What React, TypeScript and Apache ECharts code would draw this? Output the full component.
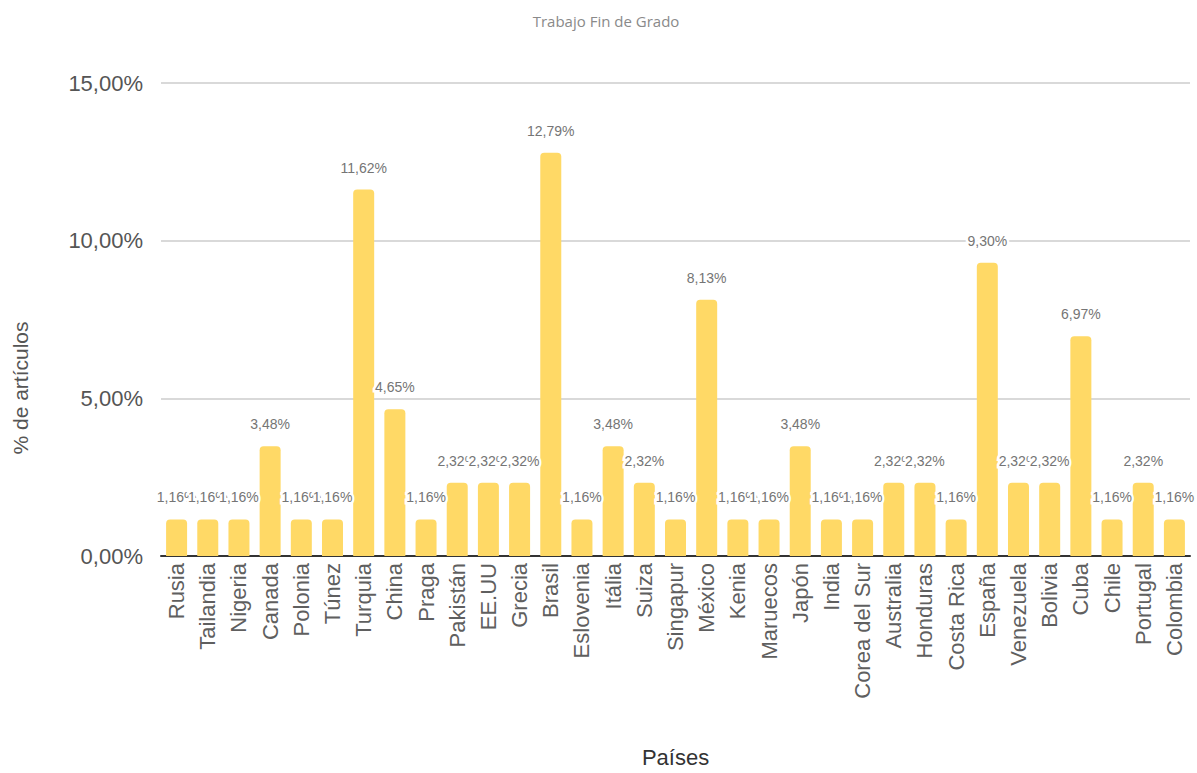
import React, { useEffect, useRef } from "react";
import * as echarts from "echarts";

const countries = [
  "Rusia", "Tailandia", "Nigeria", "Canada", "Polonia", "Túnez", "Turquia", "China", "Praga",
  "Pakistán", "EE.UU", "Grecia", "Brasil", "Eslovenia", "Itália", "Suiza", "Singapur", "México",
  "Kenia", "Maruecos", "Japón", "India", "Corea del Sur", "Australia", "Honduras", "Costa Rica",
  "España", "Venezuela", "Bolivia", "Cuba", "Chile", "Portugal", "Colombia",
];

const percentArticles = [
  1.16, 1.16, 1.16, 3.48, 1.16, 1.16, 11.62, 4.65, 1.16,
  2.32, 2.32, 2.32, 12.79, 1.16, 3.48, 2.32, 1.16, 8.13,
  1.16, 1.16, 3.48, 1.16, 1.16, 2.32, 2.32, 1.16,
  9.3, 2.32, 2.32, 6.97, 1.16, 2.32, 1.16,
];

const yTicks = [0, 5, 10, 15];

const fmt = (v: number) => v.toFixed(2).replace(".", ",") + "%";

export default function App() {
  const ref = useRef<HTMLDivElement>(null);
  useEffect(() => {
    if (!ref.current) return;
    const chart = echarts.init(ref.current, null, { renderer: "svg" });
    chart.setOption({
      animation: false,
      backgroundColor: "#ffffff",
      textStyle: { fontFamily: "Arial, 'Liberation Sans', sans-serif" },
      title: {
        text: "Trabajo Fin de Grado",
        left: 601,
        textAlign: "center",
        top: 8,
        textStyle: { fontSize: 15, fontWeight: "normal", color: "#8a8a8a", fontFamily: "'Open Sans', sans-serif" },
      },
      graphic: [
        {
          type: "text",
          x: 20,
          y: 388,
          rotation: Math.PI / 2,
          style: {
            text: "% de artículos",
            fontSize: 21,
            fill: "#555555",
            fontFamily: "Arial, 'Liberation Sans', sans-serif",
            align: "center",
            verticalAlign: "middle",
          },
        },
      ],
      grid: { left: 161, right: 7, top: 83, bottom: 214, containLabel: false },
      xAxis: {
        type: "category",
        data: countries,
        name: "Países",
        nameLocation: "middle",
        nameGap: 190,
        nameTextStyle: { fontSize: 22, color: "#333333" },
        axisLine: { show: true, lineStyle: { color: "#333333", width: 2 } },
        axisTick: { show: false },
        axisLabel: { rotate: 90, interval: 0, fontSize: 22, color: "#5f5f5f", margin: 7 },
      },
      yAxis: {
        type: "value",
        min: yTicks[0],
        max: yTicks[yTicks.length - 1],
        interval: 5,
        axisLine: { show: false },
        axisTick: { show: false },
        splitLine: { lineStyle: { color: "#cccccc", width: 1.5 } },
        axisLabel: { fontSize: 22, color: "#555555", margin: 18, formatter: (v: number) => fmt(v) },
      },
      series: [
        {
          type: "bar",
          data: percentArticles,
          barWidth: 21,
          itemStyle: { color: "#FFD966", borderRadius: [4, 4, 0, 0] },
          label: {
            show: true,
            position: "top",
            distance: 15,
            fontSize: 14,
            color: "#757575",
            textBorderColor: "#ffffff",
            textBorderWidth: 5,
            formatter: (p: any) => fmt(p.value),
          },
        },
      ],
    });
    return () => chart.dispose();
  }, []);
  return (
    <div
      ref={ref}
      style={{ position: "fixed", left: 0, top: 0, width: 1197, height: 773 }}
    />
  );
}
